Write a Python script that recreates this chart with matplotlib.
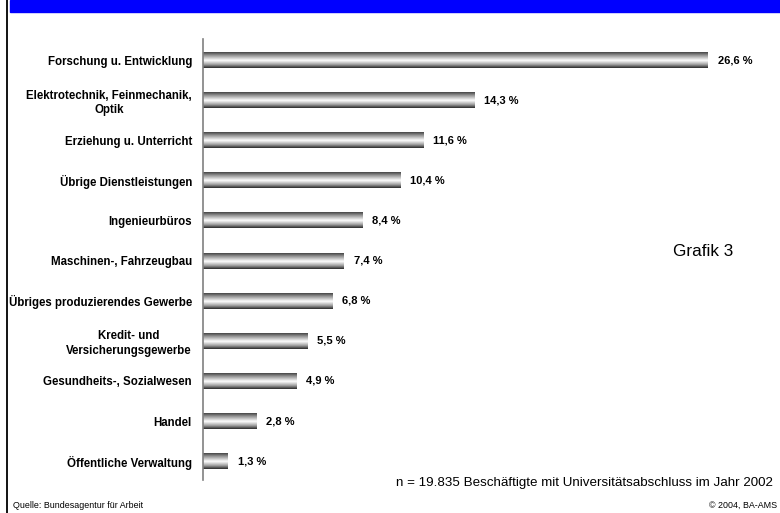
import matplotlib.pyplot as plt
import matplotlib.patches as mpatches
import numpy as np
from matplotlib.colors import LinearSegmentedColormap

plt.rcParams['font.family'] = ['Liberation Sans', 'DejaVu Sans']

branchen = ["Forschung u. Entwicklung",
            "Elektrotechnik, Feinmechanik,\nOptik",
            "Erziehung u. Unterricht",
            "Übrige Dienstleistungen",
            "Ingenieurbüros",
            "Maschinen-, Fahrzeugbau",
            "Übriges produzierendes Gewerbe",
            "Kredit- und\nVersicherungsgewerbe",
            "Gesundheits-, Sozialwesen",
            "Handel",
            "Öffentliche Verwaltung"]
anteil = [26.6, 14.3, 11.6, 10.4, 8.4, 7.4, 6.8, 5.5, 4.9, 2.8, 1.3]
wert_labels = ["26,6 %", "14,3 %", "11,6 %", "10,4 %", "8,4 %", "7,4 %",
               "6,8 %", "5,5 %", "4,9 %", "2,8 %", "1,3 %"]

W, H = 780, 513
fig = plt.figure(figsize=(W / 100, H / 100), dpi=100)

# blue title band (title text cut off) and left border
fig.patches.append(mpatches.Rectangle((10 / W, 1 - 12 / H), 1, 12 / H,
                                      transform=fig.transFigure, color="#0000ff"))
fig.add_artist(plt.Line2D([6.5 / W, 6.5 / W], [0, 1], transform=fig.transFigure,
                          color="black", lw=1.3))

ax = fig.add_axes([203 / W, (H - 480) / H, (W - 203) / W, 441 / H])

y = np.arange(len(branchen))
bars = ax.barh(y, anteil, height=0.4, color="none", edgecolor="none")

cyl = LinearSegmentedColormap.from_list(
    "cyl", [(0, "#2e2e2e"), (0.25, "#959595"), (0.55, "#ffffff"),
            (0.8, "#a0a0a0"), (1, "#2a2a2a")])
grad = np.linspace(0, 1, 64).reshape(-1, 1)
for b in bars:
    x0, y0 = b.get_x(), b.get_y()
    im = ax.imshow(grad, cmap=cyl, aspect="auto", interpolation="bilinear",
                   extent=(x0, x0 + b.get_width(), y0 + b.get_height(), y0), zorder=2)
    im.set_clip_path(b)
ax.set_xlim(0, (W - 203) / 18.98)
ax.set_ylim(10.47, -0.524)

for yi, v, t in zip(y, anteil, wert_labels):
    ax.text(v + 0.53, yi, t, va="center", ha="left", fontsize=8, fontweight="bold")

ax.set_yticks(y)
ax.set_yticklabels(branchen, fontsize=8.3, fontweight="bold",
                   multialignment="center", linespacing=1.3)
ax.tick_params(axis="y", length=0, pad=8)
ax.set_xticks([])
for s in ["top", "right", "bottom"]:
    ax.spines[s].set_visible(False)
ax.spines["left"].set_color("#808080")
ax.spines["left"].set_linewidth(1.2)

fig.text(673 / W, 1 - 252 / H, "Grafik 3", fontsize=12.3, va="center", ha="left")
fig.text(773 / W, 1 - 483 / H, "n = 19.835 Beschäftigte mit Universitätsabschluss im Jahr 2002",
         fontsize=9.6, va="center", ha="right")
fig.text(13 / W, 1 - 505 / H, "Quelle: Bundesagentur für Arbeit", fontsize=6.4,
         va="center", ha="left")
fig.text(777 / W, 1 - 505 / H, "© 2004, BA-AMS", fontsize=6.4, va="center", ha="right")

fig.savefig("out.png", dpi=100)
